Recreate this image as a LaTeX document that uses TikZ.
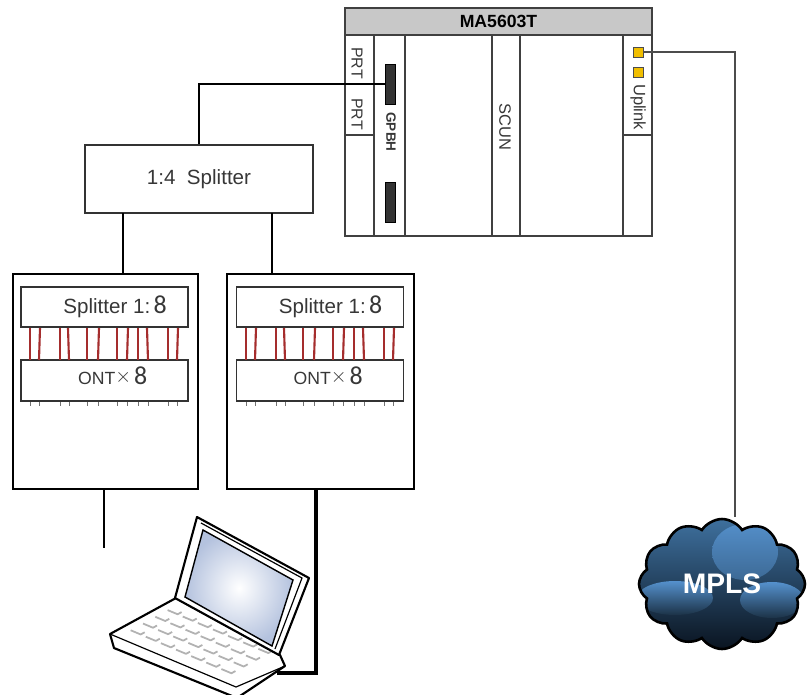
\documentclass[tikz,border=0pt]{standalone}
\usepackage{fontspec}
\setmainfont{Liberation Sans}
\newfontfamily\digitfont{Carlito}
\usetikzlibrary{shapes.symbols,calc}

\definecolor{rackgray}{RGB}{200,200,200}
\definecolor{fibrered}{RGB}{165,45,45}
\definecolor{portyellow}{RGB}{240,190,0}
\definecolor{txtgray}{RGB}{55,55,55}
\definecolor{cloudtop}{RGB}{62,112,158}
\definecolor{cloudbot}{RGB}{10,20,32}
\definecolor{puff}{RGB}{85,145,205}
\definecolor{screenblue}{RGB}{180,194,222}

\newcommand{\eight}{{\digitfont\fontsize{22}{22}\selectfont 8}}

\begin{document}
\begin{tikzpicture}[x=.85pt,y=-.85pt,
  pxbox/.style 2 args={rectangle, minimum width=.85*#1pt, minimum height=.85*#2pt, inner sep=0pt},
  rackline/.style={draw=black!75, line width=1.2pt},
  panel/.style={draw=black!80, line width=1.1pt},
  wire/.style={draw=black, line width=1.7pt},
  lan/.style={draw=black, line width=3pt},
  tag/.style={text=txtgray, font=\fontsize{17.5}{20}\selectfont},
  slotlbl/.style={rotate=-90, text=txtgray, font=\fontsize{13.5}{15}\selectfont},
  fibre/.style={draw=fibrered, line width=1.8pt},
  port/.style={pxbox={10}{10}, fill=portyellow, draw=black!70, line width=.8pt},
  card/.style={pxbox={10}{40}, fill=black!80, draw=black}
]
\useasboundingbox (0,0) rectangle (807,694);

% OLT chassis
\node[pxbox={307}{228}, rackline] (ma) at (498.5,122) {};
\foreach \x in {374,405,492,520,623}
  \draw[rackline] (\x,35) -- (\x,236);
\draw[rackline] (345,135) -- (374,135) (623,135) -- (652,135);
\node[pxbox={307}{27}, rackline, line width=1.6pt, fill=rackgray, font=\bfseries\fontsize{15}{16}\selectfont] (head) at (498.5,21.5) {MA5603T};

\node[slotlbl] (prtA) at (357,63) {PRT};
\node[slotlbl] (prtB) at (357,114) {PRT};
\node[slotlbl, font=\bfseries\fontsize{11.5}{12}\selectfont] (gpbh) at (391,132) {GPBH};
\node[slotlbl, font=\fontsize{14}{16}\selectfont] (scun) at (505,127) {SCUN};
\node[slotlbl, font=\fontsize{14}{16}\selectfont] (uplink) at (638,107) {Uplink};

\node[card] (gpbhA) at (390,84) {};
\node[card] (gpbhB) at (390,202) {};
\node[port] (upA) at (638,52) {};
\node[port] (upB) at (638,72) {};

% first stage splitter
\node[pxbox={228}{68}, panel, tag] (sp4) at (199,179) {1:4~~Splitter};
\draw[wire] (gpbhA.west) -| (sp4.north);

% cabinets
\node[pxbox={185}{215}, rackline, draw=black, line width=1.4pt] (boxA) at (105.5,381.5) {};
\node[pxbox={187}{215}, rackline, draw=black, line width=1.4pt] (boxB) at (320.5,381.5) {};

\coordinate (tapA) at (123,213);
\coordinate (tapB) at (272,213);
\draw[wire] (tapA) -- (tapA |- boxA.north);
\draw[wire] (tapB) -- (tapB |- boxB.north);

\foreach \b/\cx in {A/104.5,B/320}{
  \node[pxbox={167}{40}, panel, label={[tag, xshift=9pt]center:Splitter 1:\,\eight}] (spl\b) at (\cx,307) {};
  \node[pxbox={167}{41}, panel, label={[tag, xshift=7pt, yshift=4pt, font=\fontsize{15}{17}\selectfont]center:ONT\raisebox{2pt}{\fontsize{16}{16}\selectfont$\times$}\,\eight}] (ont\b) at (\cx,380.5) {};
}

% drop fibres between splitter and ONTs
\foreach \off in {0,216}{
  \foreach \x/\d in {30/0,39/1,60/0,69/-1,87/0,98/1,117/0,127/1,138/0,148/-1,168/0,177/1}{
    \draw[fibre] ({\x+\off+\d},328) -- ({\x+\off},360);
    \draw[black!55, line width=.8pt] ({\x+\off},402) -- ++(0,4);
  }
}

% drops to the users
\coordinate (dropA) at (104,548);
\draw[wire, line width=1.5pt] (dropA |- boxA.south) -- (dropA);
\coordinate (dropB) at (316,489);
\coordinate (pcPort) at (277,673);
\draw[lan] (dropB |- boxB.south) |- (pcPort);

% laptop
\filldraw[fill=white, line width=1.8pt, line join=round] (176,598) -- (280,655) -- (285,666) -- (237,698) -- (114,648) -- (110,634) -- cycle;
\draw[line width=1pt] (110,634) -- (236,687) -- (285,666);
\foreach \u in {0,...,6}{
  \foreach \v in {0,...,3}{
    \draw[black!30, line width=1.5pt, line join=round]
      ($(112,633)+{(\u+0.9)/8.2}*(124,53)+{(\v+0.9)/5.2}*(64,-35)+(-6,-2.5)$) -- ++(10,4.2) -- ++(4,-2.2);
  }
}
\filldraw[fill=white, line width=1.8pt, line join=round] (175,598) -- (197,517) -- (309,578) -- (279,655) -- cycle;
\draw[line width=1pt] (201,523) -- (302,578) -- (275,649);
\shade[inner color=white, outer color=screenblue, draw=black, line width=1.2pt] (185,597) -- (203,530) -- (293,580) -- (272,646) -- cycle;

% backbone cloud
\node[cloud, cloud puffs=12, cloud puff arc=115, aspect=1.3,
  minimum width=.85*166pt, minimum height=.85*130pt,
  draw=black, line width=2.2pt, top color=cloudtop, bottom color=cloudbot,
  text=white, font=\bfseries\fontsize{24}{26}\selectfont,
  path picture={
    \shade[top color=puff, bottom color=cloudtop!55!black] ($(path picture bounding box.center)+(23,-32)$) ellipse (33 and 28);
    \shade[top color=puff, bottom color=cloudtop!45!black] ($(path picture bounding box.center)+(-47,14)$) ellipse (38 and 17);
    \shade[top color=puff, bottom color=cloudtop!45!black] ($(path picture bounding box.center)+(50,16)$) ellipse (32 and 18);
  }] (mpls) at (722,584) {MPLS};

\coordinate (cloudIn) at (735,517);
\draw[black!70, line width=1.4pt] (upA.east) -| (cloudIn);

\end{tikzpicture}
\end{document}
